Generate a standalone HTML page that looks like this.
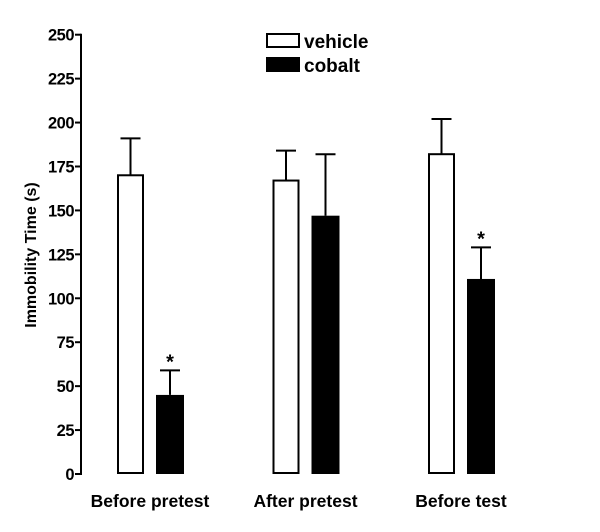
<!DOCTYPE html>
<html><head><meta charset="utf-8"><style>
html,body{margin:0;padding:0;background:#fff;}
svg{display:block;font-family:"Liberation Sans",Arial,sans-serif;font-weight:bold;}
</style></head><body>
<svg id="chart" width="600" height="532" xmlns="http://www.w3.org/2000/svg"></svg>
<script>
const categories = ["Before pretest", "After pretest", "Before test"];
const vehicleValues = [170, 167, 182];
const vehicleErrors = [21, 17, 20];
const cobaltValues = [45, 147, 111];
const cobaltErrors = [14, 35, 18];
const significant = [true, false, true];
const yTicks = [0, 25, 50, 75, 100, 125, 150, 175, 200, 225, 250];

const NS = "http://www.w3.org/2000/svg";
const svg = document.getElementById("chart");
const x0 = 81, yBase = 474, yTop = 34.7, yMax = 250;
const yScale = v => yBase - v / yMax * (yBase - yTop);
const groupCenter = i => 150 + i * 155.5;

function mk(tag, attrs, parent) {
  const e = document.createElementNS(NS, tag);
  for (const k in attrs) e.setAttribute(k, attrs[k]);
  (parent || svg).appendChild(e);
  return e;
}

const axis = mk("line", {x1: x0, y1: yTop - 1, x2: x0, y2: yBase + 1, stroke: "#000", "stroke-width": 2});


yTicks.forEach(t => {
  const y = yScale(t);
  const tk = mk("line", {x1: x0 - 6, y1: y, x2: x0, y2: y, stroke: "#000", "stroke-width": 2});
  
  
  const lb = mk("text", {x: x0 - 7, y: y + 6, "text-anchor": "end", "font-size": 16.5, "letter-spacing": -0.5});
  lb.textContent = t;
  
  
});
const yt = mk("text", {x: 0, y: 0, transform: "translate(36,255) rotate(-90)", "text-anchor": "middle", "font-size": 16});
yt.textContent = "Immobility Time (s)";



function errBar(cx, top, errTop) {
  const l = mk("path", {d: `M${cx},${top} V${errTop} M${cx - 10},${errTop} H${cx + 10}`, stroke: "#000", "stroke-width": 2, fill: "none"});
  
  
}

categories.forEach((c, i) => {
  const gc = groupCenter(i);
  const vx = gc - 32, vw = 25;
  const vy = yScale(vehicleValues[i]);
  errBar(vx + vw / 2, vy, yScale(vehicleValues[i] + vehicleErrors[i]));
  const vb = mk("rect", {x: vx, y: vy, width: vw, height: yBase - vy - 1, fill: "#fff", stroke: "#000", "stroke-width": 2});
  
  
  const cx = gc + 6, cw = 28;
  const cy = yScale(cobaltValues[i]);
  const ce = yScale(cobaltValues[i] + cobaltErrors[i]);
  errBar(cx + cw / 2, cy, ce);
  const cb = mk("rect", {x: cx, y: cy, width: cw, height: yBase - cy, fill: "#000"});
  
  
  if (significant[i]) {
    const s = mk("text", {x: cx + cw / 2, y: ce - 2, "text-anchor": "middle", "font-size": 20});
    s.textContent = "*";
    
    
  }
  const lb = mk("text", {x: gc, y: 507, "text-anchor": "middle", "font-size": 17.5});
  lb.textContent = c;
  
  
});

const l1 = mk("rect", {x: 267, y: 34, width: 32, height: 13, fill: "#fff", stroke: "#000", "stroke-width": 2});


const t1 = mk("text", {x: 304, y: 48, "font-size": 19});
t1.textContent = "vehicle";


const l2 = mk("rect", {x: 266, y: 57, width: 34, height: 15, fill: "#000"});


const t2 = mk("text", {x: 304, y: 72, "font-size": 19});
t2.textContent = "cobalt";


</script>
</body></html>
